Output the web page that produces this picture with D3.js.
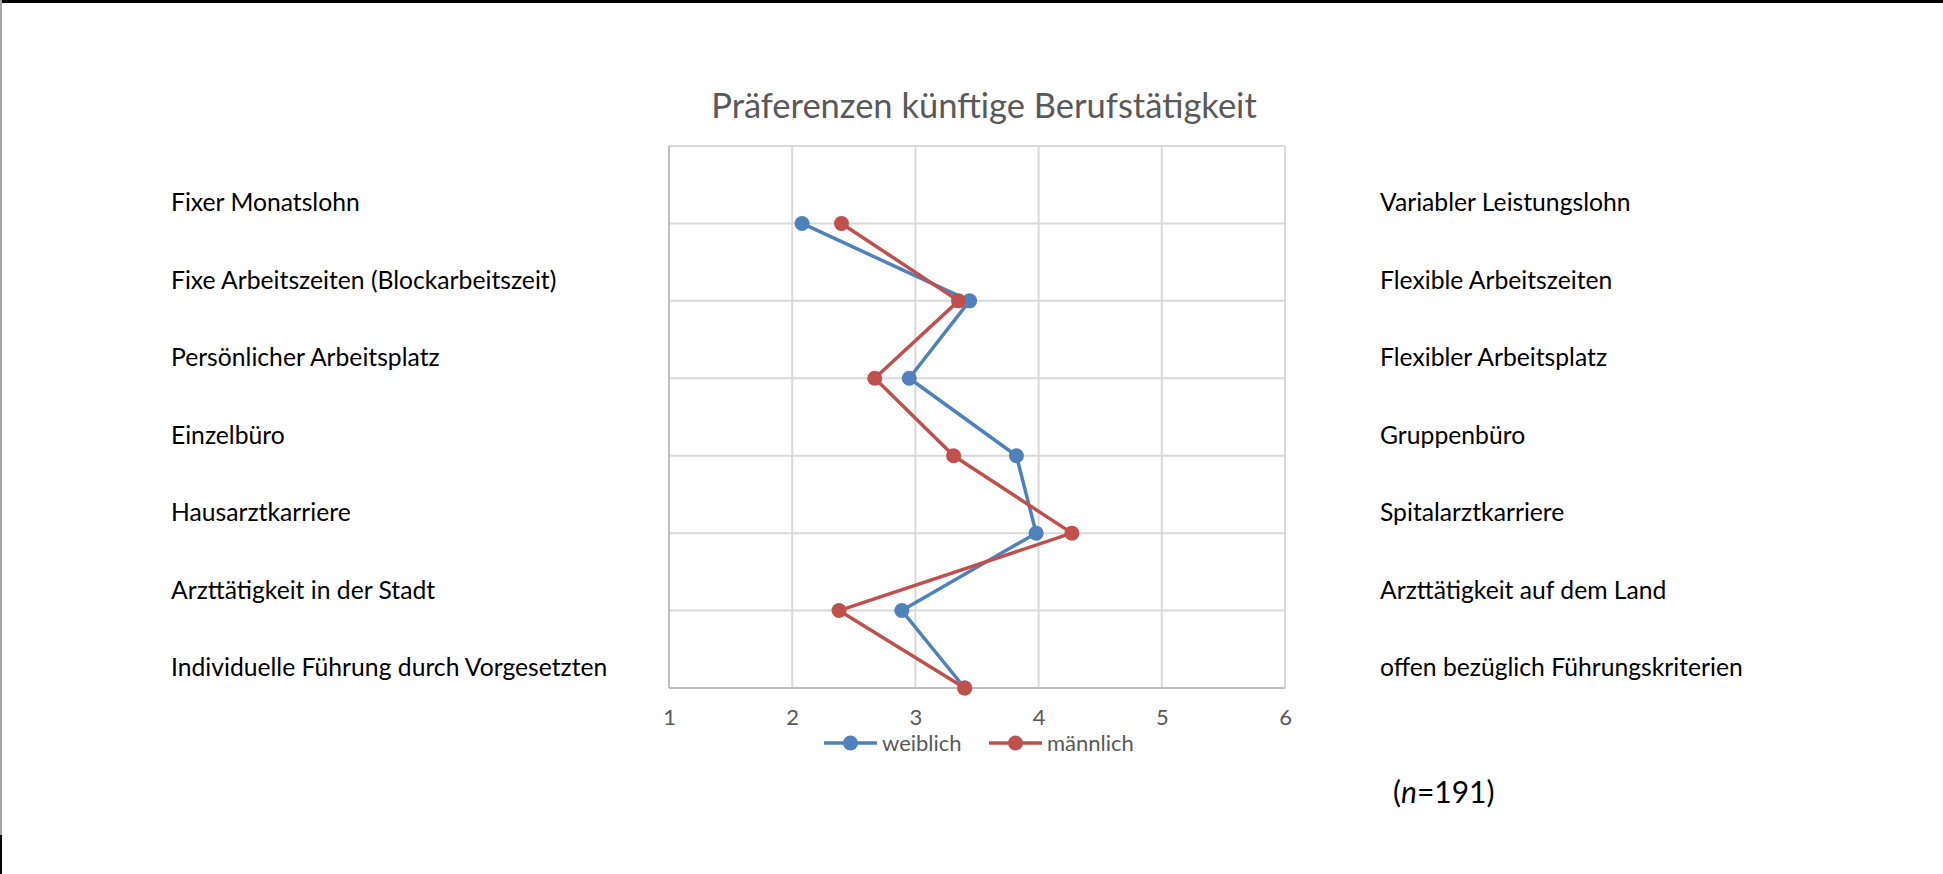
<!DOCTYPE html>
<html>
<head>
    <meta charset="UTF-8" />
    <style>
        body { margin: 0; background: #fff; }
        svg text { font-family: Lato, "Open Sans", sans-serif; }
        .lbl { font-size: 24.7px; fill: #000; }
        .tick text { font-size: 22px; fill: #595959; }
        .title { font-size: 34.5px; fill: #595959; }
        .legend text { font-size: 22px; fill: #595959; }
        .nlbl { font-size: 30px; fill: #000; }
    </style>
    <script src="https://d3js.org/d3.v7.min.js"></script>
</head>
<body>
    <svg width="1943" height="874"></svg>
    <script>
        // Werte (Skala 1-6)
        var leftLabels = ["Fixer Monatslohn", "Fixe Arbeitszeiten (Blockarbeitszeit)", "Persönlicher Arbeitsplatz",
                          "Einzelbüro", "Hausarztkarriere", "Arzttätigkeit in der Stadt",
                          "Individuelle Führung durch Vorgesetzten"];
        var rightLabels = ["Variabler Leistungslohn", "Flexible Arbeitszeiten", "Flexibler Arbeitsplatz",
                           "Gruppenbüro", "Spitalarztkarriere", "Arzttätigkeit auf dem Land",
                           "offen bezüglich Führungskriterien"];
        var weiblich = [2.08, 3.44, 2.95, 3.82, 3.98, 2.89, 3.40];
        var maennlich = [2.40, 3.35, 2.67, 3.31, 4.27, 2.38, 3.40];
        var xTicks = [1, 2, 3, 4, 5, 6];

        var svg = d3.select("svg");

        var x = d3.scaleLinear().domain([1, 6]).range([669, 1285]);
        var y = d3.scaleLinear().domain([0, 7]).range([688, 146]);
        var rowY = function(i) { return y(leftLabels.length - 1 - i); };

        // Rahmen der Seite
        svg.append("rect").attr("x", 0).attr("y", 0).attr("width", 1943).attr("height", 3).attr("fill", "#000");
        svg.append("rect").attr("x", 0).attr("y", 0).attr("width", 2).attr("height", 835).attr("fill", "#a6a6a6");
        svg.append("rect").attr("x", 0).attr("y", 835).attr("width", 2).attr("height", 39).attr("fill", "#000");

        // Gitter
        var grid = svg.append("g");
        grid.selectAll(".vg").data(xTicks).enter().append("line")
            .attr("x1", function(d) { return x(d); }).attr("x2", function(d) { return x(d); })
            .attr("y1", y(7)).attr("y2", y(0))
            .attr("stroke", "#d9d9d9").attr("stroke-width", 2);
        grid.selectAll(".hg").data(d3.range(0, 8)).enter().append("line")
            .attr("x1", x(1)).attr("x2", x(6))
            .attr("y1", function(d) { return y(d); }).attr("y2", function(d) { return y(d); })
            .attr("stroke", "#d9d9d9").attr("stroke-width", 2);
        // Achsenlinien
        svg.append("line").attr("x1", x(1)).attr("x2", x(1)).attr("y1", y(7)).attr("y2", y(0))
            .attr("stroke", "#bfbfbf").attr("stroke-width", 2);
        svg.append("line").attr("x1", x(1)).attr("x2", x(6)).attr("y1", y(0)).attr("y2", y(0))
            .attr("stroke", "#bfbfbf").attr("stroke-width", 2);

        // x-Achse Beschriftung
        var xAxis = svg.append("g")
            .attr("transform", "translate(0," + (y(0) + 18) + ")")
            .call(d3.axisBottom(x).tickValues(xTicks).tickSize(0).tickFormat(d3.format("d")));
        xAxis.select(".domain").remove();
        xAxis.selectAll("text").attr("dy", "0.71em");

        // Linien
        var series = [
            { name: "weiblich", values: weiblich, color: "#4f81bd" },
            { name: "männlich", values: maennlich, color: "#c0504d" }
        ];
        var line = d3.line()
            .x(function(d) { return x(d); })
            .y(function(d, i) { return rowY(i); });

        series.forEach(function(s) {
            var g = svg.append("g");
            g.append("path").attr("d", line(s.values))
                .attr("fill", "none").attr("stroke", s.color).attr("stroke-width", 3.5)
                .attr("stroke-linejoin", "round");
            g.selectAll("circle").data(s.values).enter().append("circle")
                .attr("cx", function(d) { return x(d); })
                .attr("cy", function(d, i) { return rowY(i); })
                .attr("r", 7.5).attr("fill", s.color);
        });

        // Beschriftungen links und rechts
        svg.selectAll(".left").data(leftLabels).enter().append("text")
            .attr("class", "lbl").attr("x", 171)
            .attr("y", function(d, i) { return rowY(i) - 12; })
            .text(function(d) { return d; });
        svg.selectAll(".right").data(rightLabels).enter().append("text")
            .attr("class", "lbl").attr("x", 1380)
            .attr("y", function(d, i) { return rowY(i) - 12; })
            .text(function(d) { return d; });

        // Titel
        svg.append("text").attr("class", "title")
            .attr("x", 984).attr("y", 118).attr("text-anchor", "middle")
            .text("Präferenzen künftige Berufstätigkeit");

        // Legende
        var legend = svg.append("g").attr("class", "legend");
        var legX = [824, 989];
        series.forEach(function(s, i) {
            var lg = legend.append("g").attr("transform", "translate(" + legX[i] + ",743)");
            lg.append("line").attr("x1", 0).attr("x2", 53).attr("stroke", s.color).attr("stroke-width", 3.5);
            lg.append("circle").attr("cx", 26.5).attr("r", 7.5).attr("fill", s.color);
            lg.append("text").attr("x", 58).attr("y", 8).text(s.name);
        });

        // n
        var nText = svg.append("text").attr("class", "nlbl").attr("x", 1393).attr("y", 803);
        nText.append("tspan").text("(");
        nText.append("tspan").attr("font-style", "italic").text("n");
        nText.append("tspan").text("=191)");
    </script>
</body>
</html>
